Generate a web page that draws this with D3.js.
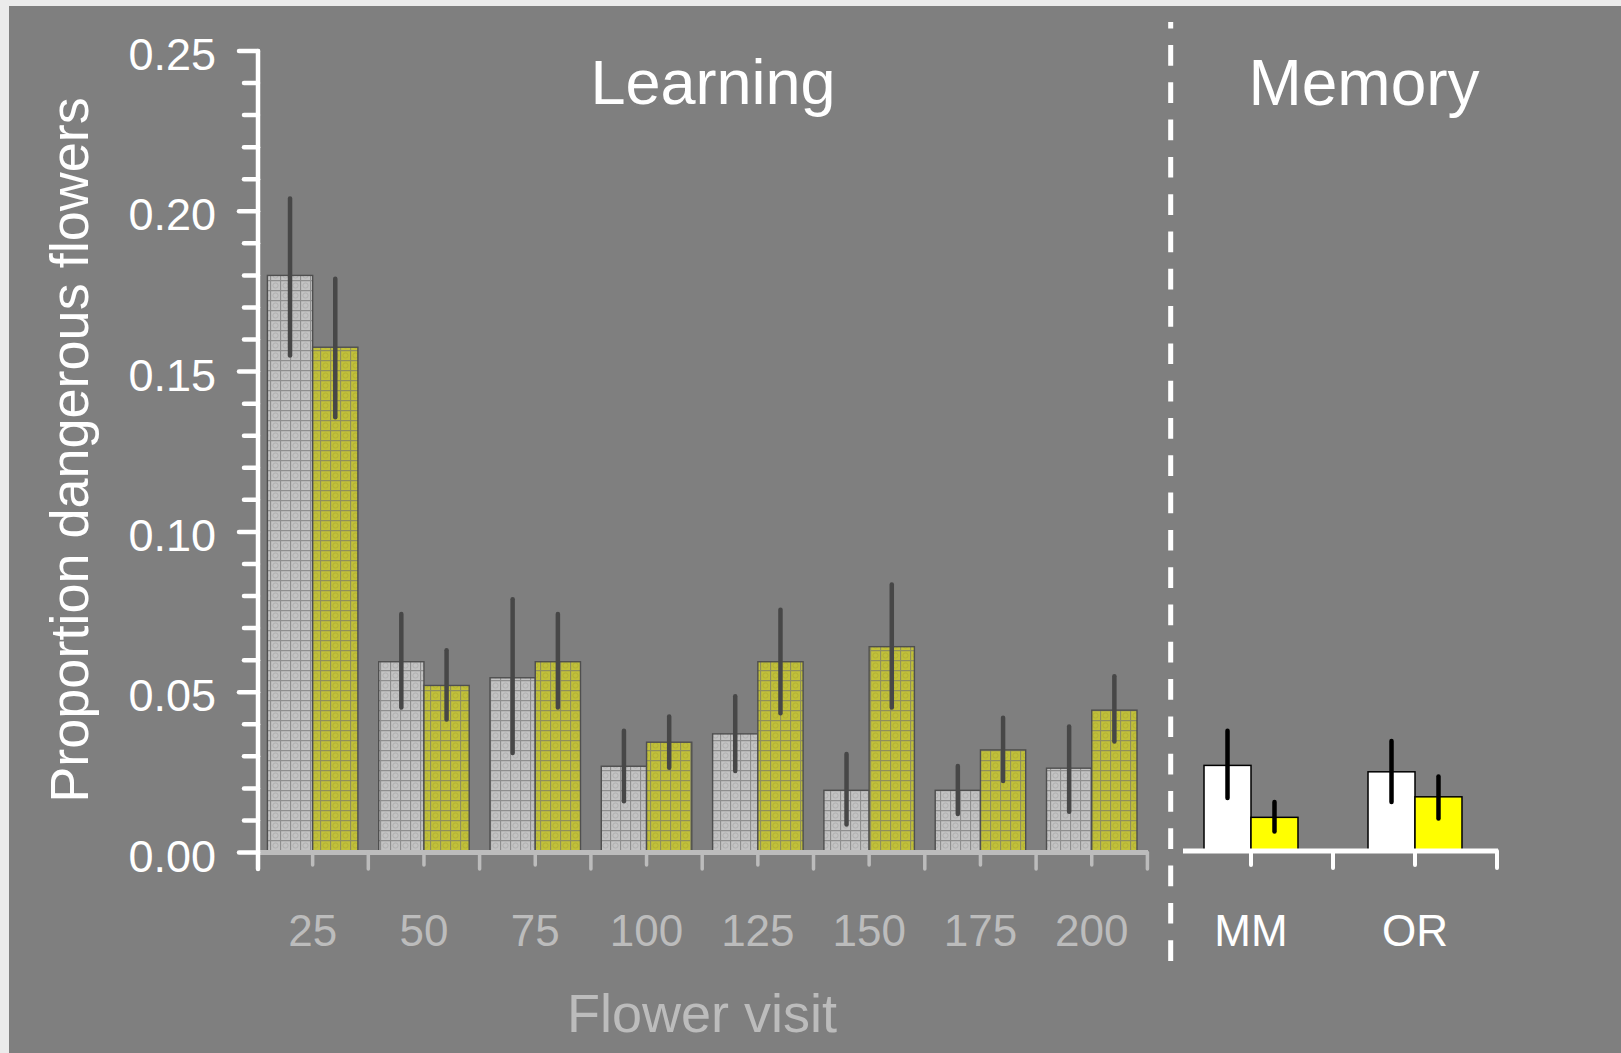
<!DOCTYPE html>
<html lang="en">
  <head>
    <meta charset="utf-8" />
    <title>Proportion dangerous flowers</title>
    <script src="https://d3js.org/d3.v7.min.js"></script>
    <style type="text/css">
      body {
        margin: 0;
        background: #ebebeb;
      }
      text {
        font-family: "Liberation Sans", Arial, sans-serif;
      }
    </style>
  </head>
  <body>
    <script type="text/javascript">
      //Data
      var visits = ["25", "50", "75", "100", "125", "150", "175", "200"];
      var greyMean = [0.180, 0.0595, 0.0545, 0.0269, 0.037, 0.0194, 0.0194, 0.0263];
      var greyLow = [0.155, 0.0452, 0.031, 0.016, 0.0254, 0.0087, 0.012, 0.0127];
      var greyHigh = [0.204, 0.0744, 0.079, 0.038, 0.0487, 0.0307, 0.027, 0.0393];
      var yellowMean = [0.1576, 0.0521, 0.0595, 0.0344, 0.0595, 0.0642, 0.032, 0.0444];
      var yellowLow = [0.1358, 0.0415, 0.0452, 0.0264, 0.0434, 0.0452, 0.0223, 0.0346];
      var yellowHigh = [0.179, 0.0631, 0.0744, 0.0424, 0.0757, 0.0836, 0.042, 0.055];

      var memGroups = ["MM", "OR"];
      var whiteMean = [0.0267, 0.0247];
      var whiteLow = [0.0165, 0.0153];
      var whiteHigh = [0.0375, 0.0343];
      var yelMean = [0.0105, 0.0169];
      var yelLow = [0.0061, 0.0101];
      var yelHigh = [0.0153, 0.0232];

      var yTicks = [0, 0.05, 0.1, 0.15, 0.2, 0.25];

      var w = 1621;
      var h = 1053;

      var svg = d3
        .select("body")
        .append("svg")
        .attr("width", w)
        .attr("height", h);

      //Hatched fills
      var defs = svg.append("defs");
      function hatch(id, base, line, dot) {
        var p = defs
          .append("pattern")
          .attr("id", id)
          .attr("patternUnits", "userSpaceOnUse")
          .attr("width", 10)
          .attr("height", 10);
        p.append("rect").attr("width", 10).attr("height", 10).attr("fill", base);
        p.append("circle")
          .attr("cx", 5.5)
          .attr("cy", 5.5)
          .attr("r", 2.6)
          .attr("fill", "none")
          .attr("stroke", dot)
          .attr("stroke-width", 1);
        p.append("path")
          .attr("d", "M0,0.5H10M0.5,0V10")
          .attr("stroke", line)
          .attr("stroke-width", 1.3);
      }
      hatch("hatchGrey", "#c3c3c3", "#8e8e8e", "#b0b0b0");
      hatch("hatchYellow", "#c1c03a", "#8f8f5c", "#b2b232");

      //Panel
      svg
        .append("rect")
        .attr("x", 9)
        .attr("y", 6)
        .attr("width", w - 9)
        .attr("height", h - 6)
        .attr("fill", "#7f7f7f");

      //Scales
      var yScale = d3.scaleLinear().domain([0, 0.25]).range([852.5, 51]);

      var xScale = d3
        .scaleBand()
        .domain(visits)
        .range([257, 1147.4])
        .paddingInner(0.187)
        .paddingOuter(0.0935);

      var xInner = d3
        .scaleBand()
        .domain(["grey", "yellow"])
        .range([0, xScale.bandwidth()]);

      var mScale = d3
        .scaleBand()
        .domain(memGroups)
        .range([1169, 1497])
        .paddingInner(0.427)
        .paddingOuter(0.2135);

      var mInner = d3
        .scaleBand()
        .domain(["white", "yellow"])
        .range([0, mScale.bandwidth()]);

      //Learning bars
      var learn = visits.map(function (v, i) {
        return [
          { g: v, k: "grey", m: greyMean[i], lo: greyLow[i], hi: greyHigh[i] },
          { g: v, k: "yellow", m: yellowMean[i], lo: yellowLow[i], hi: yellowHigh[i] }
        ];
      }).flat();

      svg
        .selectAll("rect.learn")
        .data(learn)
        .enter()
        .append("rect")
        .attr("class", "learn")
        .attr("x", function (d) {
          return xScale(d.g) + xInner(d.k);
        })
        .attr("y", function (d) {
          return yScale(d.m);
        })
        .attr("width", xInner.bandwidth())
        .attr("height", function (d) {
          return yScale(0) - yScale(d.m);
        })
        .attr("fill", function (d) {
          return d.k == "grey" ? "url(#hatchGrey)" : "url(#hatchYellow)";
        })
        .attr("stroke", "#4f4f4f")
        .attr("stroke-width", 1.4);

      svg
        .selectAll("line.learnErr")
        .data(learn)
        .enter()
        .append("line")
        .attr("class", "learnErr")
        .attr("x1", function (d) {
          return xScale(d.g) + xInner(d.k) + xInner.bandwidth() / 2;
        })
        .attr("x2", function (d) {
          return xScale(d.g) + xInner(d.k) + xInner.bandwidth() / 2;
        })
        .attr("y1", function (d) {
          return yScale(d.lo);
        })
        .attr("y2", function (d) {
          return yScale(d.hi);
        })
        .attr("stroke", "#474747")
        .attr("stroke-width", 4.5)
        .attr("stroke-linecap", "round");

      //Learning x axis (light grey)
      var axisGrey = "#bcbcbc";
      var xa = svg.append("g").attr("class", "x axis");
      xa.append("line")
        .attr("x1", 258)
        .attr("x2", 1148)
        .attr("y1", yScale(0))
        .attr("y2", yScale(0))
        .attr("stroke", axisGrey)
        .attr("stroke-width", 5);
      visits.forEach(function (v, i) {
        var c = xScale(v) + xScale.bandwidth() / 2;
        var edge = xScale.range()[0] + xScale.step() * (i + 1);
        xa.append("line")
          .attr("x1", c).attr("x2", c)
          .attr("y1", yScale(0)).attr("y2", 865)
          .attr("stroke", axisGrey).attr("stroke-width", 3.5)
          .attr("stroke-linecap", "round");
        xa.append("line")
          .attr("x1", edge).attr("x2", edge)
          .attr("y1", yScale(0)).attr("y2", 869)
          .attr("stroke", axisGrey).attr("stroke-width", 3.5)
          .attr("stroke-linecap", "round");
        xa.append("text")
          .attr("x", c)
          .attr("y", 946)
          .attr("text-anchor", "middle")
          .attr("font-size", 44)
          .attr("fill", axisGrey)
          .text(v);
      });
      svg
        .append("text")
        .attr("x", 702)
        .attr("y", 1032)
        .attr("text-anchor", "middle")
        .attr("font-size", 54)
        .attr("fill", axisGrey)
        .text("Flower visit");

      //Y axis
      var ya = svg.append("g").attr("class", "y axis");
      ya.append("line")
        .attr("x1", 258).attr("x2", 258)
        .attr("y1", yScale(0.25)).attr("y2", 869)
        .attr("stroke", "white").attr("stroke-width", 4.5)
        .attr("stroke-linecap", "round");
      ya.selectAll("line.tick")
        .data(d3.range(0, 26).map(function (k) { return k / 100; }))
        .enter()
        .append("line")
        .attr("class", "tick")
        .attr("x1", function (d, i) {
          return i % 5 == 0 ? 239 : 244;
        })
        .attr("x2", 258)
        .attr("y1", function (d) { return yScale(d); })
        .attr("y2", function (d) { return yScale(d); })
        .attr("stroke", "white")
        .attr("stroke-width", 4.5)
        .attr("stroke-linecap", "round");
      ya.selectAll("text")
        .data(yTicks)
        .enter()
        .append("text")
        .attr("x", 216)
        .attr("y", function (d) { return yScale(d) + 19; })
        .attr("text-anchor", "end")
        .attr("font-size", 45)
        .attr("fill", "white")
        .text(function (d) { return d3.format(".2f")(d); });

      svg
        .append("text")
        .attr("transform", "translate(88,450) rotate(-90)")
        .attr("text-anchor", "middle")
        .attr("font-size", 54)
        .attr("fill", "white")
        .text("Proportion dangerous flowers");

      //Section titles
      svg.append("text")
        .attr("x", 713).attr("y", 104)
        .attr("text-anchor", "middle")
        .attr("font-size", 63)
        .attr("fill", "white")
        .text("Learning");
      svg.append("text")
        .attr("x", 1364).attr("y", 105)
        .attr("text-anchor", "middle")
        .attr("font-size", 64)
        .attr("fill", "white")
        .text("Memory");

      //Divider
      svg.append("line")
        .attr("x1", 1170.7).attr("x2", 1170.7)
        .attr("y1", 22).attr("y2", 962)
        .attr("stroke", "white")
        .attr("stroke-width", 5)
        .attr("stroke-dasharray", "20.7,16.6")
        .attr("stroke-dashoffset", 14.3);

      //Memory bars
      var mem = memGroups.map(function (g, i) {
        return [
          { g: g, k: "white", m: whiteMean[i], lo: whiteLow[i], hi: whiteHigh[i] },
          { g: g, k: "yellow", m: yelMean[i], lo: yelLow[i], hi: yelHigh[i] }
        ];
      }).flat();

      var yMem = yScale.copy().range([851, 51 - 1.5]);

      svg
        .selectAll("rect.mem")
        .data(mem)
        .enter()
        .append("rect")
        .attr("class", "mem")
        .attr("x", function (d) { return mScale(d.g) + mInner(d.k); })
        .attr("y", function (d) { return yMem(d.m); })
        .attr("width", mInner.bandwidth())
        .attr("height", function (d) { return yMem(0) - yMem(d.m); })
        .attr("fill", function (d) { return d.k == "white" ? "white" : "#ffff00"; })
        .attr("stroke", "black")
        .attr("stroke-width", 1.5);

      svg
        .selectAll("line.memErr")
        .data(mem)
        .enter()
        .append("line")
        .attr("class", "memErr")
        .attr("x1", function (d) { return mScale(d.g) + mInner(d.k) + mInner.bandwidth() / 2; })
        .attr("x2", function (d) { return mScale(d.g) + mInner(d.k) + mInner.bandwidth() / 2; })
        .attr("y1", function (d) { return yMem(d.lo); })
        .attr("y2", function (d) { return yMem(d.hi); })
        .attr("stroke", "black")
        .attr("stroke-width", 4.5)
        .attr("stroke-linecap", "round");

      //Memory x axis
      var ma = svg.append("g").attr("class", "m axis");
      ma.append("line")
        .attr("x1", 1183).attr("x2", 1498)
        .attr("y1", yMem(0)).attr("y2", yMem(0))
        .attr("stroke", "white").attr("stroke-width", 5);
      memGroups.forEach(function (g, i) {
        var c = mScale(g) + mScale.bandwidth() / 2;
        var edge = mScale.range()[0] + mScale.step() * (i + 1);
        ma.append("line")
          .attr("x1", c).attr("x2", c)
          .attr("y1", yMem(0)).attr("y2", 865)
          .attr("stroke", "white").attr("stroke-width", 4)
          .attr("stroke-linecap", "round");
        ma.append("line")
          .attr("x1", edge).attr("x2", edge)
          .attr("y1", yMem(0)).attr("y2", 868)
          .attr("stroke", "white").attr("stroke-width", 4)
          .attr("stroke-linecap", "round");
        ma.append("text")
          .attr("x", c)
          .attr("y", 946)
          .attr("text-anchor", "middle")
          .attr("font-size", 44)
          .attr("fill", "white")
          .text(g);
      });
    </script>
  </body>
</html>
